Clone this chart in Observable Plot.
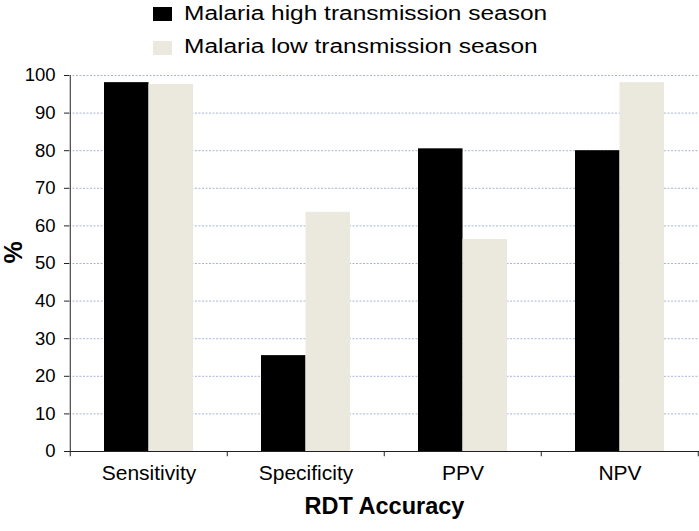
<!DOCTYPE html>
<html>
<head>
<meta charset="utf-8">
<script src="https://cdn.jsdelivr.net/npm/d3@7"></script>
<script src="https://cdn.jsdelivr.net/npm/@observablehq/plot@0.6"></script>
<style>
  html, body { margin: 0; padding: 0; background: #fff; }
  body { width: 699px; height: 531px; overflow: hidden; font-family: "Liberation Sans", Arial, sans-serif; }
  #legend { position: relative; height: 57px; width: 699px; }
  .sw { position: absolute; left: 153px; width: 19px; height: 14px; }
  .lt { position: absolute; left: 184px; font-size: 19.5px; line-height: 20px; white-space: nowrap;
        transform: scaleX(1.255); transform-origin: 0 0; color: #000; }
  #chart svg { display: block; }
</style>
</head>
<body>
<div id="legend"></div>
<div id="chart"></div>
<script>
const categories = ["Sensitivity", "Specificity", "PPV", "NPV"];
const seriesNames = ["Malaria high transmission season", "Malaria low transmission season"];
const highSeason = [98.1, 25.5, 80.5, 80.0];
const lowSeason = [97.6, 63.6, 56.4, 98.1];
const yTicks = [0, 10, 20, 30, 40, 50, 60, 70, 80, 90, 100];
const xTitle = "RDT Accuracy";
const yTitle = "%";

const colors = ["#000000", "#ebe9de"];

// legend
const legend = document.getElementById("legend");
const swTops = [7, 41];
const txtTops = [3, 36];
seriesNames.forEach((name, i) => {
  const sw = document.createElement("div");
  sw.className = "sw";
  sw.style.top = swTops[i] + "px";
  sw.style.background = colors[i];
  legend.appendChild(sw);
  const t = document.createElement("div");
  t.className = "lt";
  t.style.top = txtTops[i] + "px";
  t.textContent = name;
  legend.appendChild(t);
});

const high = categories.map((c, i) => ({category: c, value: highSeason[i]}));
const low = categories.map((c, i) => ({category: c, value: lowSeason[i]}));

const W = 699, H = 474, mL = 69, mR = 0, mT = 18, mB = 80;
const pInner = 0.435, pOuter = pInner / 2;
const step = (W - mL - mR) / (categories.length - pInner + 2 * pOuter);
const bw = step * (1 - pInner);
const half = bw / 2;

const chart = Plot.plot({
  width: W,
  height: H,
  marginLeft: mL,
  marginRight: mR,
  marginTop: mT,
  marginBottom: mB,
  style: {fontFamily: "'Liberation Sans', Arial, sans-serif", background: "#fff", color: "#000"},
  x: {domain: categories, paddingInner: pInner, paddingOuter: pOuter, label: null, axis: null},
  y: {domain: [0, 100], label: null, axis: null},
  marks: [
    Plot.ruleY(yTicks.filter(d => d > 0), {stroke: "#aab5d4", strokeDasharray: "2,1.5", strokeWidth: 1}),
    Plot.barY(high, {x: "category", y: "value", fill: colors[0], insetRight: half}),
    Plot.barY(low, {x: "category", y: "value", fill: colors[1], insetLeft: half}),
    // axis lines
    Plot.ruleY([0], {stroke: "#222"}),
    Plot.ruleX(categories.slice(0, 1), {x: d => d, dx: -step / 2, y1: 0, y2: 100, stroke: "#222"}),
    // x boundary ticks
    Plot.ruleX(categories, {x: d => d, dx: -step / 2, y1: 0, y2: -1.4, stroke: "#222"}),
    Plot.ruleX(categories.slice(-1), {x: d => d, dx: step / 2 - 0.5, y1: 0, y2: -1.4, stroke: "#222"}),
    Plot.axisY({ticks: yTicks, tickSize: 5, tickPadding: 9, fontSize: 18.5, label: null, stroke: "#222"}),
    Plot.axisX({tickSize: 0, tickPadding: 14, fontSize: 21, label: null}),
    Plot.text([yTitle], {text: d => d, frameAnchor: "left", dx: -56, rotate: -90, fontSize: 25, fontWeight: "bold"}),
    Plot.text([xTitle], {text: d => d, frameAnchor: "bottom", dy: 62, fontSize: 23.5, fontWeight: "bold"})
  ]
});
document.getElementById("chart").appendChild(chart);
</script>
</body>
</html>
